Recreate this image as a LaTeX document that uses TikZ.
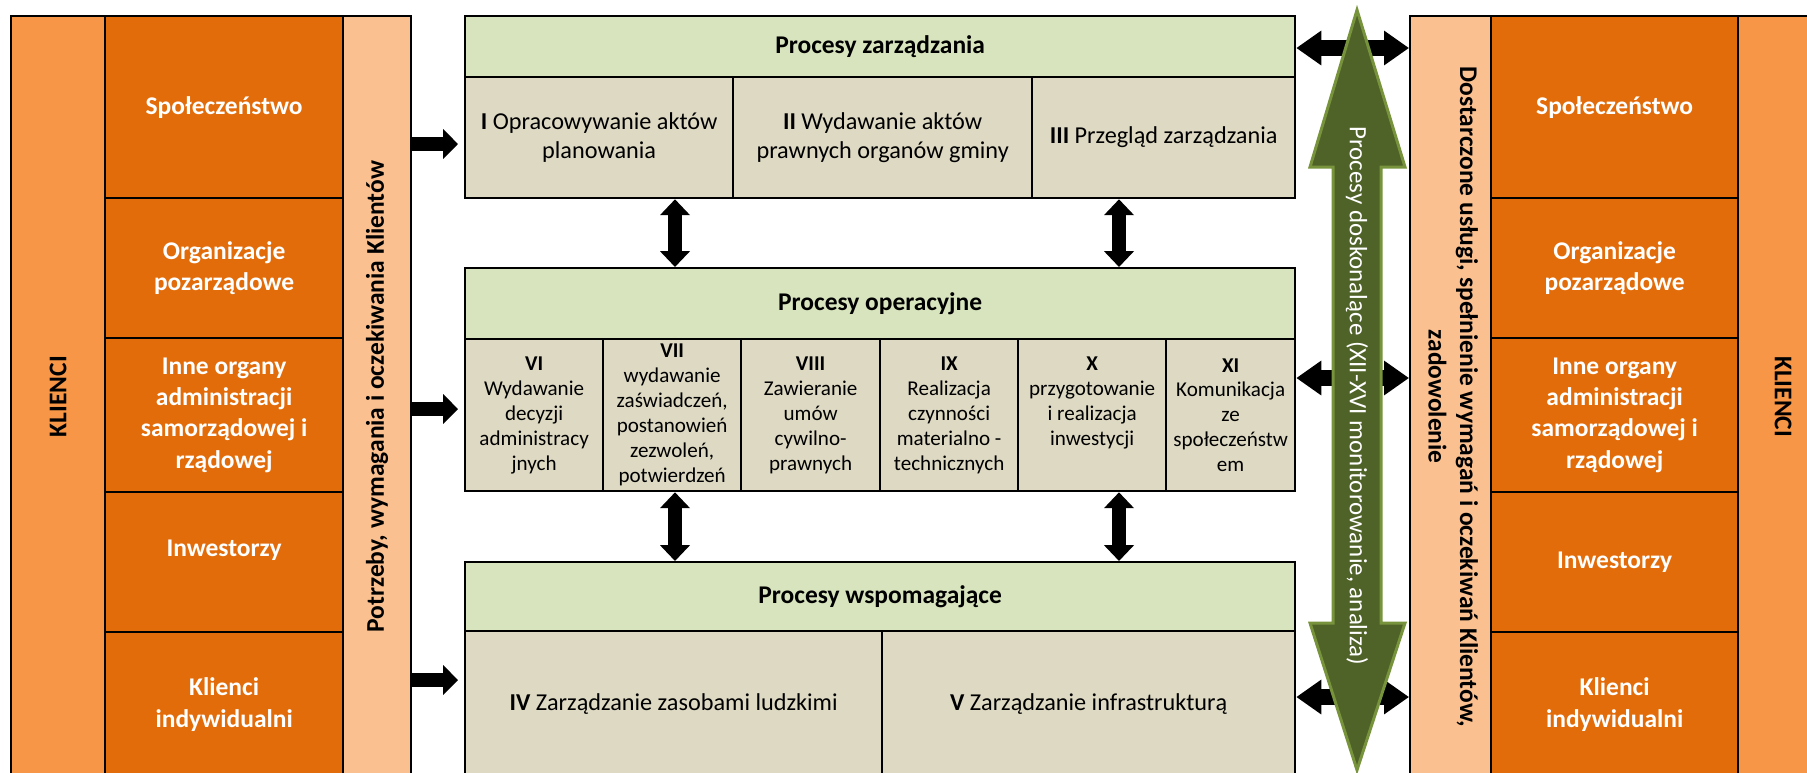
\documentclass[tikz,border=0pt]{standalone}
\usepackage{fontspec}
\setmainfont{Carlito}
\usepackage{graphicx}
\usetikzlibrary{arrows.meta}

\definecolor{pomKlient}{HTML}{F79646}
\definecolor{pomGrupa}{HTML}{E36C0A}
\definecolor{pomJasny}{HTML}{FAC090}
\definecolor{zielNagl}{HTML}{D7E4BD}
\definecolor{bezKom}{HTML}{DDD9C3}
\definecolor{zielStrz}{HTML}{4F6228}
\definecolor{zielRam}{HTML}{77933C}

\newcommand{\duzy}{\fontsize{14.5}{17.9}\selectfont}
\newcommand{\sredni}{\fontsize{13.8}{16.5}\selectfont}
\newcommand{\maly}{\fontsize{12}{14.2}\selectfont}

\begin{document}
\begin{tikzpicture}[
    x=0.02cm, y=-0.02cm,
    pole/.style 2 args={draw=black, line width=1.3pt, inner sep=0pt,
                        anchor=north west, align=center,
                        minimum width=#1*0.02cm, minimum height=#2*0.02cm},
    klient/.style={fill=pomKlient, font=\duzy\bfseries},
    grupa/.style={fill=pomGrupa, text=white, font=\duzy\bfseries},
    jasny/.style={fill=pomJasny, font=\duzy\bfseries},
    nagl/.style={fill=zielNagl, font=\duzy\bfseries},
    kom/.style={fill=bezKom, font=\sredni},
    komop/.style={fill=bezKom, font=\maly},
    strz/.style={line width=8.5pt, -{Triangle[width=16.5pt,length=8.5pt]}},
    pion/.style={line width=8pt,
                 {Triangle[width=16.5pt,length=9pt]}-{Triangle[width=16.5pt,length=9pt]}},
    zwrot/.style={line width=9pt,
                  {Triangle[width=18.8pt,length=14.2pt]}-{Triangle[width=18.8pt,length=14.2pt]}}]

  \useasboundingbox (0,0) rectangle (1807,772);
  \clip (0,0) rectangle (1807,772);

  % klienci - lewa strona
  \node[pole={94}{761}, klient] (klL) at (10,15) {\rotatebox{90}{KLIENCI}};
  \node[pole={238}{182}, grupa] (spoL) at (104,15)  {Społeczeństwo};
  \node[pole={238}{140}, grupa] (orgL) at (104,197) {Organizacje\\pozarządowe};
  \node[pole={238}{154}, grupa] (innL) at (104,337) {Inne organy\\administracji\\samorządowej i\\rządowej};
  \node[pole={238}{140}, grupa] (inwL) at (104,491) {\raisebox{0.56cm}{Inwestorzy}};
  \node[pole={238}{145}, grupa] (kliL) at (104,631) {Klienci\\indywidualni};
  \node[pole={68}{761}, jasny] (potrz) at (342,15)
       {\rotatebox{90}{Potrzeby, wymagania i oczekiwania Klientów}};

  % procesy zarzadzania
  \node[pole={830}{182}] (pz) at (464,15) {};
  \node[pole={830}{61}, nagl] (pzN) at (464,15) {Procesy zarządzania};
  \node[pole={268}{121}, kom] (c1) at (464,76)  {\textbf{I} Opracowywanie aktów\\planowania};
  \node[pole={299}{121}, kom] (c2) at (732,76)  {\textbf{II} Wydawanie aktów\\prawnych organów gminy};
  \node[pole={263}{121}, kom] (c3) at (1031,76) {\textbf{III} Przegląd zarządzania};

  % procesy operacyjne
  \node[pole={830}{223}] (po) at (464,267) {};
  \node[pole={830}{71}, nagl] (poN) at (464,267) {Procesy operacyjne};
  \node[pole={138}{152}, komop] (c6)  at (464,338)
       {\textbf{VI}\\Wydawanie\\decyzji\\administracy\\jnych};
  \node[pole={138}{152}, komop] (c7)  at (602,338)
       {\textbf{VII}\\wydawanie\\zaświadczeń,\\postanowień\\zezwoleń,\\potwierdzeń};
  \node[pole={139}{152}, komop] (c8)  at (740,338)
       {\textbf{VIII}\\Zawieranie\\umów\\cywilno-\\prawnych};
  \node[pole={138}{152}, komop] (c9)  at (879,338)
       {\textbf{IX}\\Realizacja\\czynności\\materialno -\\technicznych};
  \node[pole={148}{152}, komop] (c10) at (1017,338)
       {\textbf{X}\\przygotowanie\\i realizacja\\inwestycji\\\phantom{y}};
  \node[pole={129}{152}, komop] (c11) at (1165,338)
       {\textbf{XI}\\Komunikacja\\ze\\społeczeństw\\em};

  % procesy wspomagajace
  \node[pole={830}{215}] (pw) at (464,561) {};
  \node[pole={830}{69}, nagl] (pwN) at (464,561) {Procesy wspomagające};
  \node[pole={417}{146}, kom] (c4) at (464,630) {\textbf{IV} Zarządzanie zasobami ludzkimi};
  \node[pole={413}{146}, kom] (c5) at (881,630) {\textbf{V} Zarządzanie infrastrukturą};

  % klienci - prawa strona
  \node[pole={81}{761}, jasny] (dost) at (1409,15)
       {\rotatebox{-90}{\begin{tabular}{@{}c@{}}Dostarczone usługi, spełnienie wymagań i oczekiwań Klientów,\\zadowolenie\end{tabular}}};
  \node[pole={247}{182}, grupa] (spoP) at (1490,15)  {Społeczeństwo};
  \node[pole={247}{140}, grupa] (orgP) at (1490,197) {Organizacje\\pozarządowe};
  \node[pole={247}{154}, grupa] (innP) at (1490,337) {Inne organy\\administracji\\samorządowej i\\rządowej};
  \node[pole={247}{140}, grupa] (inwP) at (1490,491) {Inwestorzy};
  \node[pole={247}{145}, grupa] (kliP) at (1490,631) {Klienci\\indywidualni};
  \node[pole={90}{761}, klient] (klP) at (1737,15) {\rotatebox{-90}{KLIENCI}};

  % strzalki
  \coordinate (s1) at (0,144);
  \coordinate (s2) at (0,409);
  \coordinate (s3) at (0,680);
  \draw[strz, shorten >=3.4pt] (potrz.east |- s1) -- (c1.west |- s1);
  \draw[strz, shorten >=3.4pt] (potrz.east |- s2) -- (c6.west |- s2);
  \draw[strz, shorten >=3.4pt] (potrz.east |- s3) -- (c4.west |- s3);

  \coordinate (p1) at (675,0);
  \coordinate (p2) at (1119,0);
  \draw[pion] (pz.south -| p1) -- (po.north -| p1);
  \draw[pion] (pz.south -| p2) -- (po.north -| p2);
  \draw[pion] (po.south -| p1) -- (pw.north -| p1);
  \draw[pion] (po.south -| p2) -- (pw.north -| p2);

  \coordinate (z1) at (0,48);
  \coordinate (z2) at (0,378);
  \coordinate (z3) at (0,697);
  \draw[zwrot] (pz.east |- z1) -- (dost.west |- z1);
  \draw[zwrot] (po.east |- z2) -- (dost.west |- z2);
  \draw[zwrot] (pw.east |- z3) -- (dost.west |- z3);

  % procesy doskonalace
  \draw[fill=zielStrz, draw=zielRam, line width=1.7pt]
    (1357,10) -- (1405,167) -- (1381,167) -- (1381,623) -- (1405,623)
    -- (1357,770) -- (1310,623) -- (1333,623) -- (1333,167) -- (1310,167) -- cycle;
  \node[text=white, font=\fontsize{14.2}{17}\selectfont] (dosk) at (1357,396)
       {\rotatebox{-90}{Procesy doskonalące (XII-XVI monitorowanie, analiza)}};

\end{tikzpicture}
\end{document}
